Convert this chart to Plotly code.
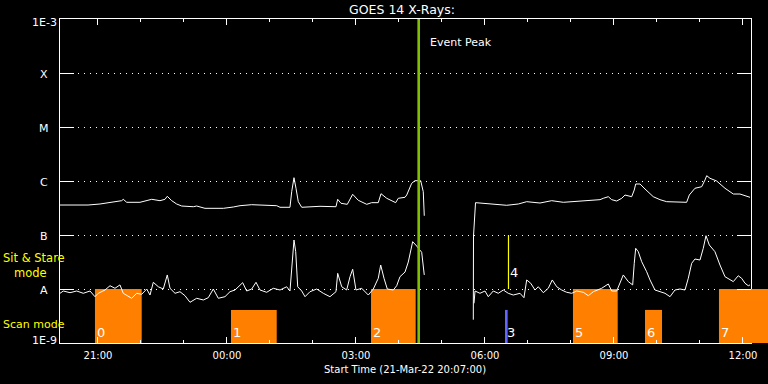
import numpy as np
import pandas as pd
import plotly.graph_objects as go

START = pd.Timestamp("2022-03-21 20:07:00")
END_MIN = 964.2          # minutes after start where the framed plot ends
EDGE_MIN = 987.9         # minutes after start at the right edge of the image
FLUX_UNIT = 1e-9         # flux values below are in units of 1e-9 W/m^2

# GOES 14 long channel (upper curve): minutes after start, flux
long_min = [0, 39.1, 55.8, 69.8, 86.1, 88.3, 93.1, 111.6, 128.0, 139.5, 146.5, 149.7, 155.9, 162.8,
            169.8, 186.0, 190.7, 202.3, 227.9, 241.8, 251.2, 267.5, 302.4, 307.0, 320.9, 323.3, 326.5,
            329.3, 332.5, 337.3, 362.8, 385.1, 387.5, 392.1, 400.9, 408.4, 416.2, 428.0, 434.9, 444.1,
            447.9, 455.9, 468.4, 472.0, 481.4, 483.8, 490.7, 495.3, 503.3, 506.9, 508.3, None,
            576.7, 577.0, 579.8, 588.4, 600.0, 614.0, 623.3, 639.5, 651.2, 669.8, 686.1, 702.3, 716.2,
            734.9, 753.5, 758.1, 765.1, 769.8, 776.8, 783.8, 788.4, 797.7, 801.3, 803.3, 809.3, 816.3,
            827.8, 837.2, 846.5, 874.4, 878.1, 886.0, 895.4, 900.0, 902.4, 907.0, 916.3, 927.9, 939.5,
            948.8, 958.2, 962.8]
long_flux = [359, 359, 375, 403, 432, 458, 403, 403, 458, 432, 458, 521, 432, 375,
             344, 334, 344, 312, 312, 330, 349, 364, 349, 326, 326, 634, 1151,
             733, 414, 326, 340, 334, 458, 386, 370, 567, 439, 370, 397, 397,
             582, 478, 397, 478, 499, 550, 906, 1013, 1013, 634, 227, None,
             2.7, 95.8, 397, 386, 375, 364, 355, 375, 414, 391, 432, 403, 414,
             432, 451, 478, 512, 451, 426, 478, 550, 512, 681, 880, 880, 711,
             512, 451, 414, 403, 550, 733, 784, 1044, 1253, 1122, 1000, 733, 574,
             574, 534, 499]

# GOES 14 short channel (lower curve)
short_min = [0, 4.6, 14.0, 23.3, 32.5, 41.9, 48.8, 53.4, 62.8, 69.8, 76.7, 83.7, 88.3, 93.1, 100.0,
             107.0, 114.0, 121.0, 125.6, 130.2, 137.2, 144.1, 149.7, 153.5, 160.5, 167.4, 174.4, 181.4,
             190.7, 200.0, 206.9, 213.9, 220.9, 230.2, 237.2, 244.2, 254.9, 260.5, 267.5, 273.5, 279.1,
             288.4, 297.6, 307.0, 316.3, 320.9, 323.7, 326.5, 328.9, 331.7, 337.3, 341.9, 348.8, 358.2,
             367.4, 376.7, 385.1, 387.5, 393.1, 400.0, 404.7, 408.4, 413.0, 421.0, 430.2, 437.2, 444.1,
             447.5, 452.1, 456.7, 465.1, 469.8, 474.4, 481.4, 486.0, 492.1, 497.7, 504.7, 508.3, None,
             577.7, 579.1, 586.0, 593.0, 597.6, 604.6, 611.6, 618.6, 625.5, 632.5, 641.9, 647.4, 651.2,
             656.8, 662.8, 667.4, 674.4, 681.3, 686.9, 693.1, 700.0, 707.0, 714.0, 721.0, 730.2, 737.2,
             744.2, 755.8, 765.1, 769.8, 776.8, 781.4, 786.0, 793.0, 799.1, 801.3, 803.3, 806.9, 811.7,
             818.6, 823.3, 830.2, 837.2, 844.2, 851.2, 858.1, 865.1, 872.1, 876.7, 881.4, 886.0, 893.0,
             897.6, 901.4, 906.0, 913.9, 920.9, 927.9, 939.5, 946.4, 951.1, 955.8, 960.4, 962.8]
short_flux = [8.32, 9.18, 8.54, 9.18, 8.32, 9.18, 7.20, 8.32, 9.58, 11.5, 10.3, 11.9, 8.32, 7.52, 6.73,
              8.32, 7.98, 10.0, 7.74, 13.3, 11.0, 10.0, 18.2, 10.3, 8.32, 8.91, 7.52, 5.67,
              6.73, 6.26, 6.90, 10.0, 6.73, 7.20, 8.91, 9.58, 13.1, 9.18, 10.0, 13.3, 9.58,
              8.69, 10.3, 9.58, 11.0, 9.18, 27.8, 80.8, 49.1, 11.0, 9.18, 7.20, 8.91, 10.0,
              8.32, 7.20, 8.91, 19.5, 11.0, 9.58, 16.9, 23.2, 9.58, 10.3, 7.74, 10.0, 15.8,
              27.8, 15.8, 10.0, 9.58, 11.5, 16.9, 20.6, 31.6, 75.2, 62.5, 47.8, 18.2, None,
              5.43, 9.18, 8.32, 9.18, 7.20, 9.18, 8.32, 9.58, 8.32, 7.74, 8.32, 6.90, 14.7,
              12.8, 9.58, 11.0, 8.54, 10.3, 14.7, 11.0, 9.58, 8.69, 8.32, 9.18, 8.69, 7.52,
              8.91, 10.3, 12.4, 9.18, 9.18, 12.8, 18.2, 13.7, 11.9, 29.9, 56.7, 49.1, 32.0,
              20.9, 14.7, 9.58, 8.91, 8.32, 7.20, 9.58, 10.0, 9.58, 15.8, 29.9, 35.9, 34.4,
              56.7, 97.1, 65.3, 49.1, 27.8, 16.9, 13.7, 17.6, 15.8, 12.8, 11.5, 11.9]

# Scan-mode observation blocks
scan_labels = ["0", "1", "2", "3", "5", "6", "7"]
scan_start_min = [48.8, 238.6, 434.0, 620.9, 715.8, 816.3, 919.5]
scan_end_min = [114.0, 302.4, 496.3, 624.6, 778.2, 840.0, 990.0]
scan_top = [1e-8, 4.1e-9, 1e-8, 4.1e-9, 1e-8, 4.1e-9, 1e-8]
scan_kind = ["scan", "scan", "scan", "other", "scan", "scan", "scan"]

# Sit & stare observation
stare_label = "4"
stare_min = 625.8
stare_low, stare_high = 1e-8, 1e-7

event_peak_min = 500.5

y_tick_vals = [1e-9, 1e-8, 1e-7, 1e-6, 1e-5, 1e-4, 1e-3]
y_tick_text = ["1E-9", "A", "B", "C", "M", "X", "1E-3"]
x_tick_times = ["2022-03-21 21:00", "2022-03-22 00:00", "2022-03-22 03:00",
                "2022-03-22 06:00", "2022-03-22 09:00", "2022-03-22 12:00"]
x_tick_text = ["21:00", "00:00", "03:00", "06:00", "09:00", "12:00"]

FONT = "DejaVu Sans"
ORANGE = "#ff8000"
BLUE = "#6464ff"
GREEN = "#80c000"
YELLOW = "#ffff00"

# layout geometry (pixels)
W, H = 768, 384
ML, MT, MB = 60, 19, 41
FRAME_R = 751
PW = W - ML                    # paper width (right margin 0)
MAIN_FRAC = (FRAME_R - ML) / PW


def px(xpix):
    """horizontal pixel -> paper fraction"""
    return (xpix - ML) / PW


def to_time(m):
    return None if m is None else START + pd.Timedelta(minutes=m)


def times(ms):
    return [to_time(m) for m in ms]


def flux(vals):
    return [None if v is None else v * FLUX_UNIT for v in vals]


fig = go.Figure()

for s, e, top, kind in zip(scan_start_min, scan_end_min, scan_top, scan_kind):
    col = ORANGE if kind == "scan" else BLUE
    ts, te = to_time(s), to_time(e)
    xs = [ts, ts, te, te, ts]
    ys = [1e-9, top, top, 1e-9, 1e-9]
    fig.add_trace(go.Scatter(x=xs, y=ys, mode="lines", fill="toself", fillcolor=col,
                             line=dict(width=0, color=col), hoverinfo="skip"))
    if e > END_MIN:  # the block runs past the frame, as in the original image
        fig.add_trace(go.Scatter(x=xs, y=ys, mode="lines", fill="toself", fillcolor=col,
                                 line=dict(width=0, color=col), hoverinfo="skip",
                                 xaxis="x2", yaxis="y2"))

fig.add_trace(go.Scatter(x=times(short_min), y=flux(short_flux), mode="lines",
                         line=dict(color="white", width=1), connectgaps=False))
fig.add_trace(go.Scatter(x=times(long_min), y=flux(long_flux), mode="lines",
                         line=dict(color="white", width=1), connectgaps=False))

ts4 = to_time(stare_min)
fig.add_trace(go.Scatter(x=[ts4, ts4], y=[stare_low, stare_high], mode="lines",
                         line=dict(color=YELLOW, width=1.2)))

tev = to_time(event_peak_min)
fig.add_trace(go.Scatter(x=[tev, tev], y=[1e-9, 1e-3], mode="lines",
                         line=dict(color=GREEN, width=2.6)))

annotations = []
n = len(y_tick_vals)
for i, (v, txt) in enumerate(zip(y_tick_vals, y_tick_text)):
    ysh = 3 if i == 0 else (-3.5 if i == n - 1 else -1)
    annotations.append(dict(xref="paper", yref="y", x=px(44), y=np.log10(v), text=txt,
                            showarrow=False, xanchor="center", yanchor="middle", yshift=ysh,
                            font=dict(family=FONT, size=11, color="white")))

for lab, s in zip(scan_labels, scan_start_min):
    annotations.append(dict(xref="x", yref="paper", x=str(to_time(s)), y=0.031, text=lab,
                            showarrow=False, xanchor="left", yanchor="middle", xshift=0,
                            font=dict(family=FONT, size=13, color="white")))

annotations.append(dict(xref="x", yref="paper", x=str(ts4), y=0.2176, text=stare_label,
                        showarrow=False, xanchor="left", yanchor="middle", xshift=0,
                        font=dict(family=FONT, size=13, color="white")))

annotations.append(dict(xref="x", yref="paper", x=str(tev), y=0.926, text="Event Peak",
                        showarrow=False, xanchor="left", yanchor="middle", xshift=9,
                        font=dict(family=FONT, size=11, color="white")))

annotations.append(dict(xref="paper", yref="paper", x=px(1), y=0.2407,
                        text="Sit & Stare<br>&nbsp;&nbsp;&nbsp;mode", align="left",
                        showarrow=False, xanchor="left", yanchor="middle",
                        font=dict(family=FONT, size=11.5, color=YELLOW)))
annotations.append(dict(xref="paper", yref="paper", x=px(1), y=0.058, text="Scan mode",
                        showarrow=False, xanchor="left", yanchor="middle",
                        font=dict(family=FONT, size=11, color=YELLOW)))

annotations.append(dict(xref="paper", yref="paper", x=px(404.5), y=-0.0833,
                        text="Start Time (21-Mar-22 20:07:00)",
                        showarrow=False, xanchor="center", yanchor="middle",
                        font=dict(family=FONT, size=10, color="white")))

fig.update_layout(
    width=W, height=H,
    margin=dict(l=ML, r=0, t=MT, b=MB, autoexpand=False),
    paper_bgcolor="black", plot_bgcolor="black",
    showlegend=False, hovermode=False,
    title=dict(text="GOES 14 X-Rays:", xref="paper", x=px(402), xanchor="center",
               y=1 - 10 / H, yanchor="middle", font=dict(family=FONT, size=12.5, color="white")),
    annotations=annotations,
    xaxis=dict(type="date", range=[START, to_time(END_MIN)], domain=[0, MAIN_FRAC],
               showgrid=False, zeroline=False, automargin=False,
               showline=True, linecolor="white", linewidth=1, mirror="allticks",
               ticks="inside", ticklen=6, tickwidth=1, tickcolor="white",
               tickvals=x_tick_times, ticktext=x_tick_text, ticklabelstandoff=3,
               tickfont=dict(family=FONT, size=10, color="white"),
               minor=dict(dtick=3600000, tick0="2022-03-21 21:00", ticks="inside",
                          ticklen=3, tickcolor="white", tickwidth=1, showgrid=False)),
    yaxis=dict(type="log", range=[-9, -3], zeroline=False, automargin=False,
               showline=True, linecolor="white", linewidth=1, mirror="allticks",
               ticks="inside", ticklen=14, tickwidth=1, tickcolor="white",
               tickvals=y_tick_vals, showticklabels=False,
               showgrid=True, gridcolor="white", gridwidth=1, griddash="1px,5px"),
    xaxis2=dict(type="date", range=[to_time(END_MIN), to_time(EDGE_MIN)],
                domain=[MAIN_FRAC, 1], anchor="y2", visible=False, showgrid=False,
                automargin=False),
    yaxis2=dict(type="log", range=[-9, -3], anchor="x2", visible=False, showgrid=False,
                automargin=False),
)

fig.write_html("out.html", config={"displayModeBar": False},
               post_script="document.body.style.margin='0';document.body.style.background='black';")
